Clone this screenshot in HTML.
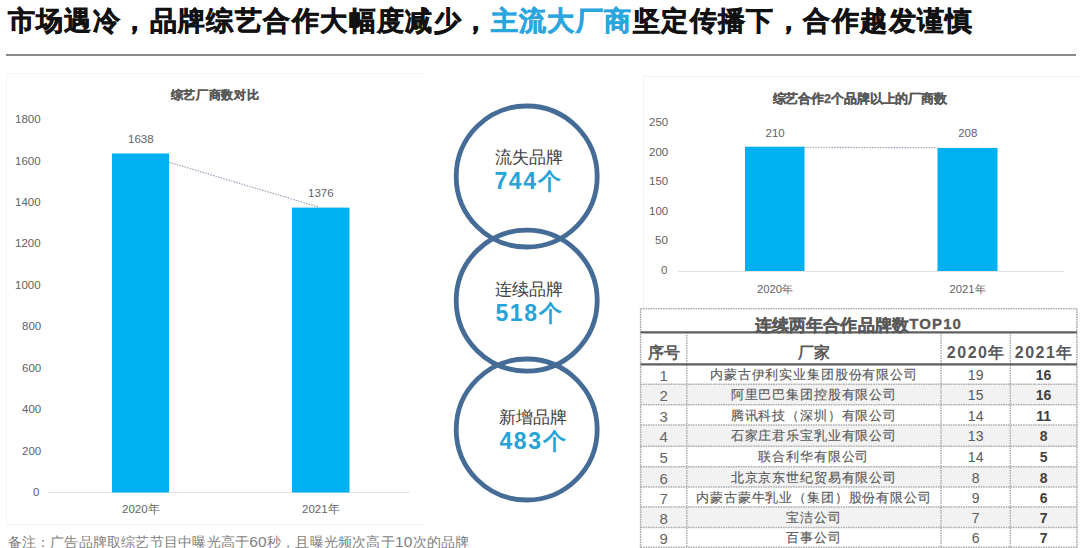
<!DOCTYPE html>
<html><head><meta charset="utf-8">
<style>
html,body{margin:0;padding:0;background:#fff;}
body{width:1080px;height:548px;position:relative;overflow:hidden;font-family:"Liberation Sans",sans-serif;}
.a{position:absolute;white-space:nowrap;}
#title{left:7.5px;top:4px;font-size:27.2px;line-height:34px;font-weight:bold;color:#111;letter-spacing:1.42px;-webkit-text-stroke:0.6px #111;}
#title .b{-webkit-text-stroke-color:#2aa6df;}
#title .b{color:#2aa6df;}
#rule{left:6px;top:54px;width:1070px;height:2px;background:#8a8a8a;}
.ct{font-weight:bold;color:#595959;-webkit-text-stroke:0.25px #595959;}
.ax{color:#626262;font-size:11.5px;line-height:12px;}
.circ-t{color:#404040;font-size:16.5px;line-height:18px;text-align:center;width:120px;}
.circ-n{color:#27a3d8;font-size:23px;line-height:24px;font-weight:bold;text-align:center;width:120px;letter-spacing:1.6px;text-indent:1.6px;}
#note{left:7.5px;top:532.5px;font-size:14px;line-height:18px;color:#808080;letter-spacing:0.22px;}
#note i{font-style:normal;font-size:15.5px;}
.tt{font-weight:bold;color:#595959;font-size:16.5px;line-height:18px;letter-spacing:0.2px;-webkit-text-stroke:0.3px #595959;}
.tt .lat{font-size:15px;letter-spacing:1.1px;position:relative;top:-1.2px;margin-left:0px;}
.th{text-align:center;font-weight:bold;color:#595959;font-size:15.8px;line-height:18px;}
.th .lat2{font-size:16px;letter-spacing:1.5px;}
.td{text-align:center;color:#595959;font-size:14px;line-height:18px;}
.td.cn{font-size:13px;letter-spacing:0.85px;-webkit-text-stroke:0.15px #595959;}
.td.tb{font-weight:bold;color:#404040;}
.td.c1{font-size:15px;color:#666;}
</style></head><body>
<div id="title" class="a">市场遇冷，品牌综艺合作大幅度减少，<span class="b">主流大厂商</span>坚定传播下，合作越发谨慎</div>
<div id="rule" class="a"></div>

<svg class="a" style="left:0;top:0" width="1080" height="548" viewBox="0 0 1080 548">
  <!-- left panel -->
  <path d="M424.5 73.5 H6.5 V524.5 H424.5" fill="none" stroke="#f4f4f4" stroke-width="1"/>
  <line x1="48" y1="492.5" x2="410" y2="492.5" stroke="#e3e3e3" stroke-width="1"/>
  <rect x="112" y="153.5" width="57" height="339" fill="#00b0f0"/>
  <rect x="292" y="207.6" width="57.5" height="284.9" fill="#00b0f0"/>
  <line x1="169" y1="162.2" x2="319" y2="207.2" stroke="#8e9cb0" stroke-width="1.1" stroke-dasharray="1.5 1.2"/>
  <!-- right panel -->
  <path d="M1080 76.5 H643.5 V306.5" fill="none" stroke="#f4f4f4" stroke-width="1"/>
  <line x1="678" y1="271.5" x2="1064" y2="271.5" stroke="#e3e3e3" stroke-width="1"/>
  <rect x="745" y="146.7" width="59.5" height="124.3" fill="#00b0f0"/>
  <rect x="937.5" y="147.9" width="60" height="123.1" fill="#00b0f0"/>
  <line x1="804.5" y1="147.2" x2="937.5" y2="147.8" stroke="#8e9cb0" stroke-width="1.1" stroke-dasharray="1.5 1.2"/>
  <!-- circles -->
  <g fill="none" stroke="#456c96" stroke-width="4.8">
    <circle cx="526.7" cy="176.5" r="70.5"/>
    <circle cx="526.7" cy="300.6" r="70.5"/>
    <circle cx="526.7" cy="429.5" r="70.5"/>
  </g>
</svg>

<!-- left chart texts -->
<div class="a ct" style="left:170.5px;top:88.4px;font-size:12.4px;line-height:14px;letter-spacing:0.7px;">综艺厂商数对比</div>
<div class="a ax" style="left:15px;top:113.0px;">1800</div>
<div class="a ax" style="left:15px;top:154.5px;">1600</div>
<div class="a ax" style="left:15px;top:195.9px;">1400</div>
<div class="a ax" style="left:15px;top:237.4px;">1200</div>
<div class="a ax" style="left:15px;top:278.9px;">1000</div>
<div class="a ax" style="left:22px;top:320.4px;">800</div>
<div class="a ax" style="left:22px;top:361.8px;">600</div>
<div class="a ax" style="left:22px;top:403.3px;">400</div>
<div class="a ax" style="left:22px;top:444.8px;">200</div>
<div class="a ax" style="left:33px;top:486.2px;">0</div>
<div class="a ax" style="left:128px;top:133px;">1638</div>
<div class="a ax" style="left:308px;top:187px;">1376</div>
<div class="a ax" style="left:122px;top:503px;">2020年</div>
<div class="a ax" style="left:302px;top:503px;">2021年</div>
<div id="note" class="a">备注：广告品牌取综艺节目中曝光高于<i>60</i>秒，且曝光频次高于<i>10</i>次的品牌</div>

<!-- circle texts -->
<div class="a circ-t" style="left:468.5px;top:147.5px;">流失品牌</div>
<div class="a circ-n" style="left:467.5px;top:168.5px;">744个</div>
<div class="a circ-t" style="left:468.5px;top:280px;">连续品牌</div>
<div class="a circ-n" style="left:468.5px;top:301.0px;">518个</div>
<div class="a circ-t" style="left:473px;top:407.7px;">新增品牌</div>
<div class="a circ-n" style="left:472.5px;top:429.0px;">483个</div>

<!-- right chart texts -->
<div class="a ct" style="left:772.5px;top:92px;font-size:12.5px;line-height:14px;letter-spacing:-0.1px;">综艺合作2个品牌以上的厂商数</div>
<div class="a ax" style="left:649px;top:116px;">250</div>
<div class="a ax" style="left:649px;top:146px;">200</div>
<div class="a ax" style="left:649px;top:175px;">150</div>
<div class="a ax" style="left:649px;top:205px;">100</div>
<div class="a ax" style="left:655px;top:234px;">50</div>
<div class="a ax" style="left:661px;top:264px;">0</div>
<div class="a ax" style="left:765.5px;top:126.8px;">210</div>
<div class="a ax" style="left:958.2px;top:126.8px;">208</div>
<div class="a ax" style="left:757px;top:282.5px;font-size:11.3px;">2020年</div>
<div class="a ax" style="left:949.5px;top:282.5px;font-size:11.3px;">2021年</div>

<!-- table -->
<svg class="a" style="left:0;top:0" width="1080" height="548" viewBox="0 0 1080 548">
<rect x="640.6" y="384.3" width="436.30000000000007" height="20.399999999999977" fill="#f2f2f2"/>
<rect x="640.6" y="425.1" width="436.30000000000007" height="21.099999999999966" fill="#f2f2f2"/>
<rect x="640.6" y="466.7" width="436.30000000000007" height="20.30000000000001" fill="#f2f2f2"/>
<rect x="640.6" y="507.0" width="436.30000000000007" height="20.5" fill="#f2f2f2"/>
<line x1="640.6" y1="308.8" x2="1076.9" y2="308.8" stroke="#ababab" stroke-width="1.5" stroke-dasharray="1.6 0.9"/>
<line x1="640.6" y1="384.3" x2="1076.9" y2="384.3" stroke="#ababab" stroke-width="1.5" stroke-dasharray="1.6 0.9"/>
<line x1="640.6" y1="404.7" x2="1076.9" y2="404.7" stroke="#ababab" stroke-width="1.5" stroke-dasharray="1.6 0.9"/>
<line x1="640.6" y1="425.1" x2="1076.9" y2="425.1" stroke="#ababab" stroke-width="1.5" stroke-dasharray="1.6 0.9"/>
<line x1="640.6" y1="446.2" x2="1076.9" y2="446.2" stroke="#ababab" stroke-width="1.5" stroke-dasharray="1.6 0.9"/>
<line x1="640.6" y1="466.7" x2="1076.9" y2="466.7" stroke="#ababab" stroke-width="1.5" stroke-dasharray="1.6 0.9"/>
<line x1="640.6" y1="487.0" x2="1076.9" y2="487.0" stroke="#ababab" stroke-width="1.5" stroke-dasharray="1.6 0.9"/>
<line x1="640.6" y1="507.0" x2="1076.9" y2="507.0" stroke="#ababab" stroke-width="1.5" stroke-dasharray="1.6 0.9"/>
<line x1="640.6" y1="527.5" x2="1076.9" y2="527.5" stroke="#ababab" stroke-width="1.5" stroke-dasharray="1.6 0.9"/>
<line x1="640.6" y1="547.3" x2="1076.9" y2="547.3" stroke="#ababab" stroke-width="1.5" stroke-dasharray="1.6 0.9"/>
<line x1="640.6" y1="308.8" x2="640.6" y2="548" stroke="#ababab" stroke-width="1.5" stroke-dasharray="1.6 0.9"/>
<line x1="1076.9" y1="308.8" x2="1076.9" y2="548" stroke="#ababab" stroke-width="1.5" stroke-dasharray="1.6 0.9"/>
<line x1="686.8" y1="332.4" x2="686.8" y2="548" stroke="#ababab" stroke-width="1.5" stroke-dasharray="1.6 0.9"/>
<line x1="941.0" y1="332.4" x2="941.0" y2="548" stroke="#ababab" stroke-width="1.5" stroke-dasharray="1.6 0.9"/>
<line x1="1010.3" y1="332.4" x2="1010.3" y2="548" stroke="#ababab" stroke-width="1.5" stroke-dasharray="1.6 0.9"/>
<line x1="640.6" y1="332.4" x2="1076.9" y2="332.4" stroke="#5f5f5f" stroke-width="2.2"/>
<line x1="640.6" y1="364.4" x2="1076.9" y2="364.4" stroke="#5f5f5f" stroke-width="2.2"/>
</svg>
<div class="a tt" style="left:754.5px;top:315.5px;">连续两年合作品牌数<span class="lat">TOP10</span></div>
<div class="a th" style="left:640.6px;width:46.19999999999993px;top:343.7px;">序号</div>
<div class="a th" style="left:686.8px;width:254.20000000000005px;top:343.7px;">厂家</div>
<div class="a th" style="left:941.0px;width:69.29999999999995px;top:343.7px;"><span class="lat2">2020</span>年</div>
<div class="a th" style="left:1010.3px;width:66.60000000000014px;top:343.7px;"><span class="lat2">2021</span>年</div>
<div class="a td c1" style="left:640.6px;width:46.19999999999993px;top:367.3px;">1</div>
<div class="a td cn" style="left:686.8px;width:254.20000000000005px;top:366.3px;">内蒙古伊利实业集团股份有限公司</div>
<div class="a td" style="left:941.0px;width:69.29999999999995px;top:366.3px;">19</div>
<div class="a td tb" style="left:1010.3px;width:66.60000000000014px;top:366.3px;">16</div>
<div class="a td c1" style="left:640.6px;width:46.19999999999993px;top:387.3px;">2</div>
<div class="a td cn" style="left:686.8px;width:254.20000000000005px;top:386.3px;">阿里巴巴集团控股有限公司</div>
<div class="a td" style="left:941.0px;width:69.29999999999995px;top:386.3px;">15</div>
<div class="a td tb" style="left:1010.3px;width:66.60000000000014px;top:386.3px;">16</div>
<div class="a td c1" style="left:640.6px;width:46.19999999999993px;top:407.7px;">3</div>
<div class="a td cn" style="left:686.8px;width:254.20000000000005px;top:406.7px;">腾讯科技（深圳）有限公司</div>
<div class="a td" style="left:941.0px;width:69.29999999999995px;top:406.7px;">14</div>
<div class="a td tb" style="left:1010.3px;width:66.60000000000014px;top:406.7px;">11</div>
<div class="a td c1" style="left:640.6px;width:46.19999999999993px;top:428.4px;">4</div>
<div class="a td cn" style="left:686.8px;width:254.20000000000005px;top:427.4px;">石家庄君乐宝乳业有限公司</div>
<div class="a td" style="left:941.0px;width:69.29999999999995px;top:427.4px;">13</div>
<div class="a td tb" style="left:1010.3px;width:66.60000000000014px;top:427.4px;">8</div>
<div class="a td c1" style="left:640.6px;width:46.19999999999993px;top:449.2px;">5</div>
<div class="a td cn" style="left:686.8px;width:254.20000000000005px;top:448.2px;">联合利华有限公司</div>
<div class="a td" style="left:941.0px;width:69.29999999999995px;top:448.2px;">14</div>
<div class="a td tb" style="left:1010.3px;width:66.60000000000014px;top:448.2px;">5</div>
<div class="a td c1" style="left:640.6px;width:46.19999999999993px;top:469.7px;">6</div>
<div class="a td cn" style="left:686.8px;width:254.20000000000005px;top:468.7px;">北京京东世纪贸易有限公司</div>
<div class="a td" style="left:941.0px;width:69.29999999999995px;top:468.7px;">8</div>
<div class="a td tb" style="left:1010.3px;width:66.60000000000014px;top:468.7px;">8</div>
<div class="a td c1" style="left:640.6px;width:46.19999999999993px;top:489.8px;">7</div>
<div class="a td cn" style="left:686.8px;width:254.20000000000005px;top:488.8px;">内蒙古蒙牛乳业（集团）股份有限公司</div>
<div class="a td" style="left:941.0px;width:69.29999999999995px;top:488.8px;">9</div>
<div class="a td tb" style="left:1010.3px;width:66.60000000000014px;top:488.8px;">6</div>
<div class="a td c1" style="left:640.6px;width:46.19999999999993px;top:510.1px;">8</div>
<div class="a td cn" style="left:686.8px;width:254.20000000000005px;top:509.1px;">宝洁公司</div>
<div class="a td" style="left:941.0px;width:69.29999999999995px;top:509.1px;">7</div>
<div class="a td tb" style="left:1010.3px;width:66.60000000000014px;top:509.1px;">7</div>
<div class="a td c1" style="left:640.6px;width:46.19999999999993px;top:530.2px;">9</div>
<div class="a td cn" style="left:686.8px;width:254.20000000000005px;top:529.2px;">百事公司</div>
<div class="a td" style="left:941.0px;width:69.29999999999995px;top:529.2px;">6</div>
<div class="a td tb" style="left:1010.3px;width:66.60000000000014px;top:529.2px;">7</div>
<!-- /table -->
</body></html>
